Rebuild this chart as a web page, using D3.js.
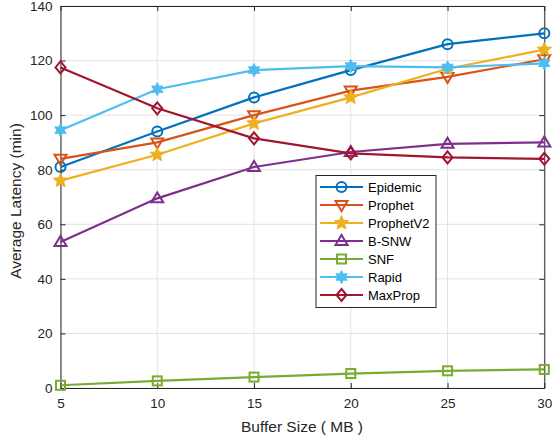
<!DOCTYPE html>
<html><head><meta charset="utf-8">
<script src="https://cdn.jsdelivr.net/npm/d3@7"></script>
<style>body{margin:0;background:#fff}svg{display:block}text{font-family:"Liberation Sans",Arial,sans-serif}</style>
</head><body>
<svg id="c" width="552" height="443"></svg>
<script>
const bufferSizes = [5, 10, 15, 20, 25, 30];
const xTicks = [5, 10, 15, 20, 25, 30];
const yTicks = [0, 20, 40, 60, 80, 100, 120, 140];
const seriesNames = ["Epidemic", "Prophet", "ProphetV2", "B-SNW", "SNF", "Rapid", "MaxProp"];
const epidemic  = [81, 94, 106.5, 116.5, 126, 130];
const prophet   = [84, 90, 100, 109, 114, 120.5];
const prophetV2 = [76, 85.5, 97, 106.5, 117, 124];
const bsnw      = [53.5, 69.5, 81, 86.5, 89.5, 90];
const snf       = [1, 2.6, 4, 5.3, 6.3, 6.8];
const rapid     = [94.5, 109.5, 116.5, 118, 117.5, 119];
const maxprop   = [117.5, 102.5, 91.5, 86, 84.5, 84];
const colors = ["#0072BD", "#D95319", "#EDB120", "#7E2F8E", "#77AC30", "#4DBEEE", "#A2142F"];
const markers = ["circle", "triDown", "star", "triUp", "square", "hexstar", "diamond"];
const allValues = [epidemic, prophet, prophetV2, bsnw, snf, rapid, maxprop];

const svg = d3.select("#c");
const L = 60.5, R = 544.3, T = 6, B = 388;
const x = d3.scaleLinear().domain([5, 30]).range([L, R]);
const y = d3.scaleLinear().domain([0, 140]).range([B, T]);

// grid
const g = svg.append("g");
g.selectAll(".gx").data(xTicks).join("line").attr("x1", d => x(d)).attr("x2", d => x(d))
  .attr("y1", T).attr("y2", B).attr("stroke", "#e3e3e3").attr("stroke-width", 1);
g.selectAll(".gy").data(yTicks).join("line").attr("y1", d => y(d)).attr("y2", d => y(d))
  .attr("x1", L).attr("x2", R).attr("stroke", "#e3e3e3").attr("stroke-width", 1);

// axes
const fs = "13.5px";
const xa = svg.append("g").attr("transform", `translate(0,${B})`)
  .call(d3.axisBottom(x).tickValues(xTicks).tickSize(-5).tickPadding(10).tickSizeOuter(0));
const ya = svg.append("g").attr("transform", `translate(${L},0)`)
  .call(d3.axisLeft(y).tickValues(yTicks).tickSize(-5).tickPadding(8).tickSizeOuter(0));
const xt = svg.append("g").attr("transform", `translate(0,${T})`)
  .call(d3.axisTop(x).tickValues(xTicks).tickSize(-5).tickFormat("").tickSizeOuter(0));
const yr = svg.append("g").attr("transform", `translate(${R},0)`)
  .call(d3.axisRight(y).tickValues(yTicks).tickSize(-5).tickFormat("").tickSizeOuter(0));
[xa, ya, xt, yr].forEach(a => {
  a.selectAll("path").attr("stroke", "#262626").attr("stroke-width", 1);
  a.selectAll("line").attr("stroke", "#262626");
  a.selectAll("text").attr("fill", "#262626").style("font-size", fs).style("font-family", '"Liberation Sans",Arial,sans-serif');
});

svg.append("text").attr("x", 302).attr("y", 432).attr("text-anchor", "middle")
  .attr("fill", "#262626").style("font-size", "15.5px").text("Buffer Size ( MB )");
svg.append("text").attr("transform", `translate(21,201) rotate(-90)`).attr("text-anchor", "middle")
  .attr("fill", "#262626").style("font-size", "15.5px").text("Average Latency (min)");

function starPath(r, n, inner) {
  const pts = [];
  for (let i = 0; i < 2 * n; i++) {
    const a = Math.PI * i / n - Math.PI / 2;
    const rr = i % 2 ? r * inner : r;
    pts.push([rr * Math.cos(a), rr * Math.sin(a)]);
  }
  return "M" + pts.map(p => p.join(",")).join("L") + "Z";
}
function drawMarker(sel, type, color) {
  const sw = 2;
  if (type === "circle") sel.append("circle").attr("r", 5).attr("fill", "none").attr("stroke", color).attr("stroke-width", sw);
  else if (type === "square") sel.append("rect").attr("x", -4.5).attr("y", -4.5).attr("width", 9).attr("height", 9).attr("fill", "none").attr("stroke", color).attr("stroke-width", sw);
  else if (type === "diamond") sel.append("path").attr("d", "M0,-6L5,0L0,6L-5,0Z").attr("fill", "none").attr("stroke", color).attr("stroke-width", sw);
  else if (type === "triDown") sel.append("path").attr("d", "M-6,-4L6,-4L0,6Z").attr("fill", "none").attr("stroke", color).attr("stroke-width", sw);
  else if (type === "triUp") sel.append("path").attr("d", "M-6,4L6,4L0,-6Z").attr("fill", "none").attr("stroke", color).attr("stroke-width", sw);
  else if (type === "star") sel.append("path").attr("d", starPath(7.5, 5, 0.45)).attr("fill", color).attr("stroke", color).attr("stroke-width", 1);
  else if (type === "hexstar") sel.append("path").attr("d", starPath(6.5, 6, 0.55)).attr("fill", color).attr("stroke", color).attr("stroke-width", 1);
}

const line = d3.line().x((d, i) => x(bufferSizes[i])).y(d => y(d));
allValues.forEach((vals, k) => {
  svg.append("path").datum(vals).attr("d", line).attr("fill", "none")
    .attr("stroke", colors[k]).attr("stroke-width", 2.2);
  vals.forEach((v, i) => {
    const m = svg.append("g").attr("transform", `translate(${x(bufferSizes[i])},${y(v)})`);
    drawMarker(m, markers[k], colors[k]);
  });
});

// legend
const lg = svg.append("g");
lg.append("rect").attr("x", 316).attr("y", 175.5).attr("width", 120).attr("height", 132)
  .attr("fill", "#fff").attr("stroke", "#262626").attr("stroke-width", 1);
seriesNames.forEach((n, k) => {
  const yy = 187 + k * 18;
  lg.append("line").attr("x1", 320).attr("x2", 363).attr("y1", yy).attr("y2", yy)
    .attr("stroke", colors[k]).attr("stroke-width", 2.2);
  const m = lg.append("g").attr("transform", `translate(341.5,${yy})`);
  drawMarker(m, markers[k], colors[k]);
  lg.append("text").attr("x", 368).attr("y", yy + 4.5).attr("fill", "#000").style("font-size", "13px").text(n);
});
</script>
</body></html>
